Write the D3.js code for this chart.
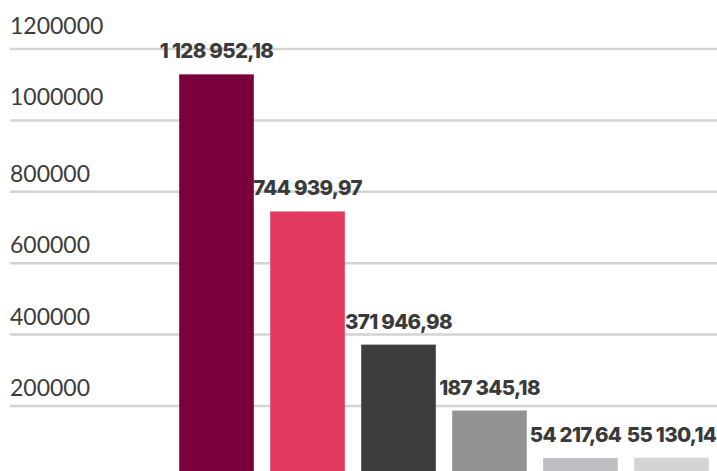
<!DOCTYPE html>
<html>
<head>
<meta charset="utf-8">
<script src="https://cdn.jsdelivr.net/npm/d3@7"></script>
<style>
  html, body { margin: 0; padding: 0; background: #fff; }
  svg { display: block; }
</style>
</head>
<body>
<svg id="chart" width="717" height="471"></svg>
<script>
const categories = ["A", "B", "C", "D", "E", "F"];
const values = [1128952.18, 744939.97, 371946.98, 187345.18, 54217.64, 55130.14];
const valueLabels = ["1 128 952,18", "744 939,97", "371 946,98", "187 345,18", "54 217,64", "55 130,14"];
const colors = ["#7a003c", "#e33b5f", "#3d3d3d", "#939396", "#bfbfc3", "#d4d4d6"];
const yTicks = [200000, 400000, 600000, 800000, 1000000, 1200000];

const svg = d3.select("#chart");
const y = d3.scaleLinear().domain([0, 1200000]).range([477.4, 49]);
const x = d3.scaleBand().domain(categories).range([171, 717]).paddingInner(0.18).paddingOuter(0.09);

// gridlines + labels
const g = svg.append("g");
g.selectAll("line.grid").data(yTicks).join("line")
  .attr("x1", 10).attr("x2", 717)
  .attr("y1", d => y(d)).attr("y2", d => y(d))
  .attr("stroke", "#d3d3d3").attr("stroke-width", 2.5);
g.selectAll("text.tick").data(yTicks).join("text")
  .attr("x", 10).attr("y", d => y(d) - (d >= 1000000 ? 15 : 10))
  .attr("font-family", "Lato, sans-serif").attr("font-size", 23)
  .attr("fill", "#3c3c3c")
  .text(d => String(d));

// bars
svg.selectAll("rect.bar").data(values).join("rect")
  .attr("x", (d, i) => x(categories[i]))
  .attr("width", x.bandwidth())
  .attr("y", d => y(d))
  .attr("height", d => y(0) - y(d))
  .attr("fill", (d, i) => colors[i]);

// value labels
svg.selectAll("text.val").data(values).join("text")
  .attr("x", (d, i) => x(categories[i]) + x.bandwidth() / 2 - (i === 4 ? 5 : 0))
  .attr("y", d => y(d) - 16)
  .attr("text-anchor", "middle")
  .attr("font-family", "Inter, sans-serif").attr("font-weight", 800).attr("font-size", 20.5)
  .attr("letter-spacing", -0.7)
  .attr("fill", "#3a3a3a")
  .text((d, i) => valueLabels[i]);
</script>
</body>
</html>
